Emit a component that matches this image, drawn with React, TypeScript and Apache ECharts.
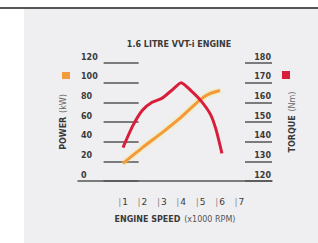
import React, { useEffect, useRef } from "react";
import * as echarts from "echarts";

const titleText = "1.6 LITRE VVT-i ENGINE";
const xTickValues = [1, 2, 3, 4, 5, 6, 7];
const powerData: [number, number][] = [
  [1, 18], [2, 34], [3, 49], [4, 65], [5, 83], [5.5, 89], [6, 92],
];
const torqueData: [number, number][] = [
  [1, 137], [1.5, 148], [2, 156], [2.5, 160], [3, 162], [3.5, 166],
  [4, 170], [4.5, 166], [5, 161], [5.5, 154], [5.8, 146], [6.1, 134],
];

const FONT = "DejaVu Sans";
const DARK = "#3a3a3a";

export default function App() {
  const ref = useRef<HTMLDivElement>(null);
  useEffect(() => {
    document.body.style.margin = "0";
    const chart = echarts.init(ref.current!, null, { renderer: "svg" });
    chart.setOption({
      animation: false,
      backgroundColor: "#ffffff",
      textStyle: { fontFamily: FONT },
      title: {
        text: titleText,
        left: 174,
        top: 35,
        textAlign: "center",
        textStyle: { fontSize: 8, fontWeight: "bold", color: DARK, fontFamily: FONT },
      },
      graphic: [
        { type: "rect", z: -10, shape: { x: 24, y: 9, width: 294, height: 234 }, style: { fill: "#efeff1" } },
        { type: "rect", z: -5, shape: { x: 0, y: 7, width: 318, height: 2 }, style: { fill: "#555555" } },
        { type: "rect", shape: { x: 62, y: 72, width: 8, height: 7 }, style: { fill: "#f39a3b" } },
        { type: "rect", shape: { x: 282, y: 71, width: 8, height: 8 }, style: { fill: "#d81e3a" } },
      ],
      grid: { left: 78, right: 46, top: 63, bottom: 62 },
      xAxis: {
        type: "value",
        min: -1.32,
        max: 8.68,
        offset: 9,
        splitLine: { show: false },
        axisLine: { show: true, lineStyle: { color: "#555", width: 1.5 } },
        axisTick: { show: false },
        axisLabel: {
          customValues: xTickValues,
          margin: 7,
          formatter: (v: number) => `{t||}{n|${v}}`,
          rich: {
            t: { color: "#8a8a8a", fontSize: 9, fontFamily: FONT, padding: [0, 1, 0, 0] },
            n: { color: DARK, fontSize: 9, fontFamily: FONT },
          },
        },
        name: "{b|ENGINE SPEED} {n|(x1000 RPM)}",
        nameLocation: "middle",
        nameGap: 23,
        nameTextStyle: {
          rich: {
            b: { fontSize: 8, fontWeight: "bold", color: DARK, fontFamily: FONT },
            n: { fontSize: 8, color: "#555", fontFamily: FONT },
          },
        },
      },
      yAxis: [
        {
          type: "value",
          position: "left",
          min: 0,
          max: 120,
          interval: 20,
          splitLine: { show: false },
          axisLine: { show: false },
          axisTick: { show: true, inside: true, length: 35, lineStyle: { color: "#555", width: 1.5 } },
          axisLabel: {
            inside: true,
            margin: 3,
            verticalAlign: "bottom",
            padding: [0, 0, 2, 0],
            color: DARK,
            fontSize: 8,
            fontWeight: "bold",
            fontFamily: FONT,
          },
          name: "{b|POWER} {n|(kW)}",
          nameLocation: "middle",
          nameRotate: 90,
          nameGap: 9,
          nameTextStyle: {
            rich: {
              b: { fontSize: 8, fontWeight: "bold", color: DARK, fontFamily: FONT },
              n: { fontSize: 8, color: "#666", fontFamily: FONT },
            },
          },
        },
        {
          type: "value",
          position: "right",
          min: 120,
          max: 180,
          interval: 10,
          splitLine: { show: false },
          axisLine: { show: false },
          axisTick: { show: true, inside: true, length: 27, lineStyle: { color: "#555", width: 1.5 } },
          axisLabel: {
            inside: true,
            margin: 1,
            verticalAlign: "bottom",
            padding: [0, 0, 2, 0],
            color: DARK,
            fontSize: 8,
            fontWeight: "bold",
            fontFamily: FONT,
          },
          name: "{b|TORQUE} {n|(Nm)}",
          nameLocation: "middle",
          nameRotate: 90,
          nameGap: 14,
          nameTextStyle: {
            rich: {
              b: { fontSize: 8, fontWeight: "bold", color: DARK, fontFamily: FONT },
              n: { fontSize: 8, color: "#666", fontFamily: FONT },
            },
          },
        },
      ],
      series: [
        {
          name: "Power",
          type: "line",
          yAxisIndex: 0,
          data: powerData,
          showSymbol: false,
          smooth: 0.2,
          lineStyle: { color: "#f39a3b", width: 3, shadowColor: "rgba(250,220,90,0.8)", shadowBlur: 3 },
        },
        {
          name: "Torque",
          type: "line",
          yAxisIndex: 1,
          data: torqueData,
          showSymbol: false,
          smooth: 0.2,
          lineStyle: { color: "#d81e3a", width: 3 },
        },
      ],
    });
    return () => chart.dispose();
  }, []);
  return <div ref={ref} style={{ width: 318, height: 243 }} />;
}
